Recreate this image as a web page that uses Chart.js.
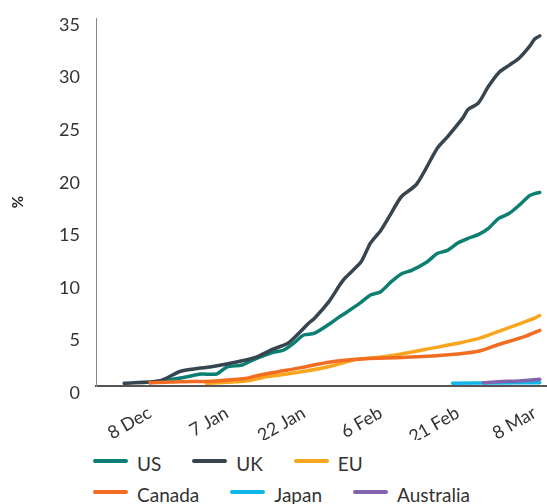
<!DOCTYPE html>
<html>
<head>
<meta charset="utf-8">
<script src="https://cdn.jsdelivr.net/npm/chart.js@4.4.1/dist/chart.umd.min.js"></script>
<style>
  body { margin: 0; background: #fff; font-family: Lato, sans-serif; }
  #wrap { position: relative; width: 547px; height: 504px; overflow: hidden; }
  #chartBox { position: relative; width: 547px; height: 440px; }
  #legend { position: absolute; left: 93px; top: 452px; }
  .row { display: flex; height: 22px; align-items: center; margin-bottom: 9px; }
  .item { display: flex; align-items: center; margin-right: 31px; font-size: 19px; color: #333; }
  .swatch { width: 35px; height: 4px; border-radius: 2px; margin-right: 9px; position: relative; top: -2px; }
</style>
</head>
<body>
<div id="wrap">
  <div id="chartBox"><canvas id="myChart"></canvas></div>
  <div id="legend"></div>
</div>
<script>
// eje x: indice de dia, con etiquetas solo en algunos dias
const tickDays = [10, 25, 40, 55, 70, 85];
const tickLabels = ['8 Dec', '7 Jan', '22 Jan', '6 Feb', '21 Feb', '8 Mar'];

// valores (%)
const usDays = [10, 16, 20, 23, 25, 28, 30, 34, 36, 38, 40, 42, 45, 47, 48, 51, 53, 55, 57, 59, 61, 64, 66, 68, 70, 72, 74, 76, 78, 80, 82, 84, 85, 86];
const usValues = [0.3, 0.76, 1.14, 1.14, 1.8, 2.0, 2.47, 3.2, 3.4, 4.06, 4.85, 5.0, 5.9, 6.6, 6.9, 7.9, 8.66, 8.97, 9.9, 10.66, 11.0, 11.8, 12.6, 12.9, 13.6, 14.05, 14.4, 15.0, 15.95, 16.4, 17.2, 18.1, 18.3, 18.4];

const ukDays = [5, 12, 16, 22, 28, 31, 34, 37, 41, 42, 45, 47, 48, 51, 52, 53, 55, 57, 59, 62, 66, 68, 71, 72, 74, 76, 78, 80, 82, 84, 85, 86];
const ukValues = [0.26, 0.5, 1.4, 1.84, 2.4, 2.8, 3.5, 4.1, 6.0, 6.4, 8.1, 9.6, 10.25, 11.7, 12.6, 13.6, 14.8, 16.4, 18.0, 19.2, 22.6, 23.7, 25.5, 26.3, 26.9, 28.5, 29.8, 30.5, 31.2, 32.3, 33.0, 33.3];

const euDays = [21, 29, 33, 39, 45, 50, 55, 59, 65, 70, 74, 78, 82, 85, 86];
const euValues = [0.25, 0.5, 0.9, 1.3, 1.85, 2.5, 2.75, 3.05, 3.6, 4.06, 4.5, 5.2, 5.9, 6.45, 6.7];

const canadaDays = [10, 16, 22, 26, 29, 31, 35, 39, 43, 47, 52, 59, 65, 70, 74, 78, 83, 86];
const canadaValues = [0.3, 0.4, 0.45, 0.6, 0.75, 1.0, 1.36, 1.7, 2.1, 2.4, 2.6, 2.7, 2.85, 3.05, 3.3, 3.95, 4.7, 5.3];

const japanDays = [69, 78, 86];
const japanValues = [0.27, 0.29, 0.32];

const australiaDays = [75, 78, 82, 86];
const australiaValues = [0.31, 0.41, 0.48, 0.64];

const series = [
    {label: 'US', days: usDays, values: usValues, color: '#0b7f72', order: 6},
    {label: 'UK', days: ukDays, values: ukValues, color: '#36454f', order: 5},
    {label: 'EU', days: euDays, values: euValues, color: '#f9a61e', order: 4},
    {label: 'Canada', days: canadaDays, values: canadaValues, color: '#f26c22', order: 3},
    {label: 'Japan', days: japanDays, values: japanValues, color: '#12b5ea', order: 2},
    {label: 'Australia', days: australiaDays, values: australiaValues, color: '#8264ad', order: 1}
];

Chart.defaults.font.family = 'Lato, sans-serif';
Chart.defaults.font.size = 18;
Chart.defaults.color = '#333';

let datasets = series.map(function(s){
    return {
        label: s.label,
        data: s.days.map((d, i) => ({x: d, y: s.values[i]})),
        borderColor: s.color,
        backgroundColor: s.color,
        order: s.order
    };
});

//Quitamos el relleno que Chart.js reserva para las etiquetas de los extremos
function sinRelleno(scale){
    scale.paddingLeft = 0;
    scale.paddingRight = 0;
    scale.paddingTop = 0;
    scale.paddingBottom = 0;
}

let config = {
    type: 'line',
    data: {datasets: datasets},
    options: {
        responsive: true,
        maintainAspectRatio: false,
        animation: false,
        layout: {padding: {top: 18, left: 0, right: 0, bottom: 0}},
        plugins: {
            legend: {display: false},
            tooltip: {enabled: false}
        },
        elements: {
            point: {radius: 0},
            line: {borderWidth: 3.5, tension: 0.25, borderCapStyle: 'round', borderJoinStyle: 'round'}
        },
        scales: {
            x: {
                type: 'linear',
                min: -0.5,
                max: 87.4,
                grid: {display: false, drawTicks: false},
                border: {color: '#555', width: 2},
                afterBuildTicks: function(scale){
                    scale.ticks = tickDays.map(v => ({value: v}));
                },
                ticks: {
                    autoSkip: false,
                    maxRotation: 30,
                    minRotation: 30,
                    padding: 16,
                    callback: function(v){ return tickLabels[tickDays.indexOf(v)]; }
                },
                afterFit: function(scale){
                    scale.height = 54;
                    sinRelleno(scale);
                }
            },
            y: {
                min: 0,
                max: 35,
                grid: {display: false, drawTicks: false},
                border: {color: '#888', width: 1},
                ticks: {stepSize: 5, padding: 16, labelOffset: 7},
                title: {
                    display: true,
                    text: '%',
                    color: '#222',
                    font: {size: 15, weight: 'bold'},
                    padding: {top: 9, bottom: 0}
                },
                afterFit: function(scale){
                    scale.width = 96;
                    sinRelleno(scale);
                }
            }
        }
    }
};

new Chart(document.getElementById('myChart'), config);

// leyenda en HTML, dos filas como en el original
const legendRows = [['US', 'UK', 'EU'], ['Canada', 'Japan', 'Australia']];
const legendBox = document.getElementById('legend');
legendRows.forEach(function(row){
    let rowDiv = document.createElement('div');
    rowDiv.className = 'row';
    row.forEach(function(name){
        let s = series.find(x => x.label === name);
        let item = document.createElement('div');
        item.className = 'item';
        let sw = document.createElement('span');
        sw.className = 'swatch';
        sw.style.background = s.color;
        item.appendChild(sw);
        item.appendChild(document.createTextNode(name));
        rowDiv.appendChild(item);
    });
    legendBox.appendChild(rowDiv);
});
</script>
</body>
</html>
